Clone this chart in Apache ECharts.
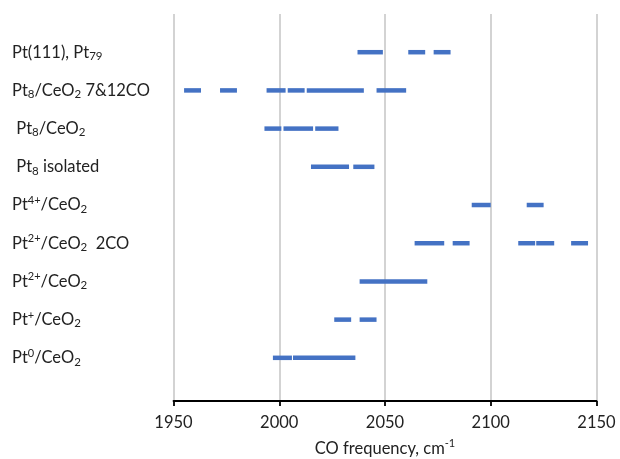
<!DOCTYPE html>
<html>
<head>
<meta charset="utf-8">
<script src="https://cdn.jsdelivr.net/npm/echarts@6/dist/echarts.min.js"></script>
<style>html,body{margin:0;padding:0;background:#fff;}#c{width:620px;height:459px;}</style>
</head>
<body>
<div id="c"></div>
<script>
// Row labels, top to bottom (rich-text markup for sub/superscripts)
const rowLabels = [
  '{b|Pt(111), Pt}{sub|79}',
  '{b|Pt}{sub|8}{b|/CeO}{sub|2}{b| 7&12CO}',
  '{b| Pt}{sub|8}{b|/CeO}{sub|2}',
  '{b| Pt}{sub|8}{b| isolated}',
  '{b|Pt}{sup|4+}{b|/CeO}{sub|2}',
  '{b|Pt}{sup|2+}{b|/CeO}{sub|2}{b|  2CO}',
  '{b|Pt}{sup|2+}{b|/CeO}{sub|2}',
  '{b|Pt}{sup|+}{b|/CeO}{sub|2}',
  '{b|Pt}{sup|0}{b|/CeO}{sub|2}'
];
// Row positions on the y value axis (top row = 9)
const rowValues = [9, 8, 7, 6, 5, 4, 3, 2, 1];

// Frequency ranges (cm-1) of the segments in each row
const segPt111      = [[2037, 2049], [2061, 2069], [2073, 2081]];
const segPt8CO      = [[1955, 1963], [1972, 1980], [1994, 2003], [2004, 2012], [2013, 2040], [2046, 2060]];
const segPt8CeO2    = [[1993, 2001], [2002, 2016], [2017, 2028]];
const segPt8Iso     = [[2015, 2033], [2035, 2045]];
const segPt4        = [[2091, 2100], [2117, 2125]];
const segPt2_2CO    = [[2064, 2078], [2082, 2090], [2113, 2121], [2121.5, 2130], [2138, 2146]];
const segPt2        = [[2038, 2070]];
const segPt1        = [[2026, 2034], [2038, 2046]];
const segPt0        = [[1997, 2006], [2006.5, 2036]];

const rowSegments = [segPt111, segPt8CO, segPt8CeO2, segPt8Iso, segPt4, segPt2_2CO, segPt2, segPt1, segPt0];

// X axis ticks
const xTicks = [1950, 2000, 2050, 2100, 2150];

const data = [];
rowSegments.forEach((segs, i) => {
  segs.forEach(s => data.push([s[0], s[1], rowValues[i]]));
});

const chart = echarts.init(document.getElementById('c'), null, {renderer: 'canvas'});
const fontFam = 'Lato, "Open Sans", sans-serif';
const txt = '#222';
chart.setOption({
  animation: false,
  backgroundColor: '#fff',
  grid: {left: 173.5, right: 23.5, top: 14, bottom: 58, containLabel: false, outerBoundsMode: 'none'},
  xAxis: {
    type: 'value',
    min: xTicks[0],
    max: xTicks[xTicks.length - 1],
    interval: 50,
    name: '{b|CO frequency, cm}{sup|-1}',
    nameLocation: 'middle',
    nameGap: 37,
    nameTextStyle: {
      color: txt, fontSize: 16.5, fontFamily: fontFam,
      rich: {
        b: {fontSize: 16.5, lineHeight: 22, color: txt, fontFamily: fontFam},
        sup: {fontSize: 11, lineHeight: 13, verticalAlign: 'top', color: txt, fontFamily: fontFam}
      }
    },
    axisLine: {show: true, onZero: false, lineStyle: {color: '#000', width: 1.8}},
    axisTick: {show: true, length: 5, lineStyle: {color: '#000', width: 1.8}},
    axisLabel: {color: txt, fontSize: 16.5, fontFamily: fontFam, margin: 13,
      formatter: function (v) { return String(v); }},
    splitLine: {show: true, lineStyle: {color: '#c4c4c4', width: 1.5}}
  },
  yAxis: {
    type: 'value',
    min: -0.13,
    max: 10,
    axisLine: {show: false},
    axisTick: {show: false},
    splitLine: {show: false},
    axisLabel: {
      show: true,
      customValues: rowValues,
      align: 'left',
      margin: 161.5,
      color: txt,
      fontSize: 16.5,
      fontFamily: fontFam,
      formatter: function (v) {
        const idx = rowValues.indexOf(Math.round(v));
        return idx >= 0 ? rowLabels[idx] : '';
      },
      rich: {
        b: {fontSize: 16.5, lineHeight: 20, color: txt, fontFamily: fontFam},
        sub: {fontSize: 11.5, lineHeight: 11, verticalAlign: 'bottom', color: txt, fontFamily: fontFam},
        sup: {fontSize: 11, lineHeight: 14, verticalAlign: 'top', color: txt, fontFamily: fontFam}
      }
    }
  },
  series: [{
    type: 'custom',
    data: data,
    encode: {x: [0, 1], y: 2},
    renderItem: function (params, api) {
      const y = api.value(2);
      const p1 = api.coord([api.value(0), y]);
      const p2 = api.coord([api.value(1), y]);
      return {
        type: 'line',
        shape: {x1: p1[0], y1: p1[1], x2: p2[0], y2: p2[1]},
        style: {stroke: '#4472C4', lineWidth: 4.5, lineCap: 'butt'}
      };
    }
  }]
});
</script>
</body>
</html>
